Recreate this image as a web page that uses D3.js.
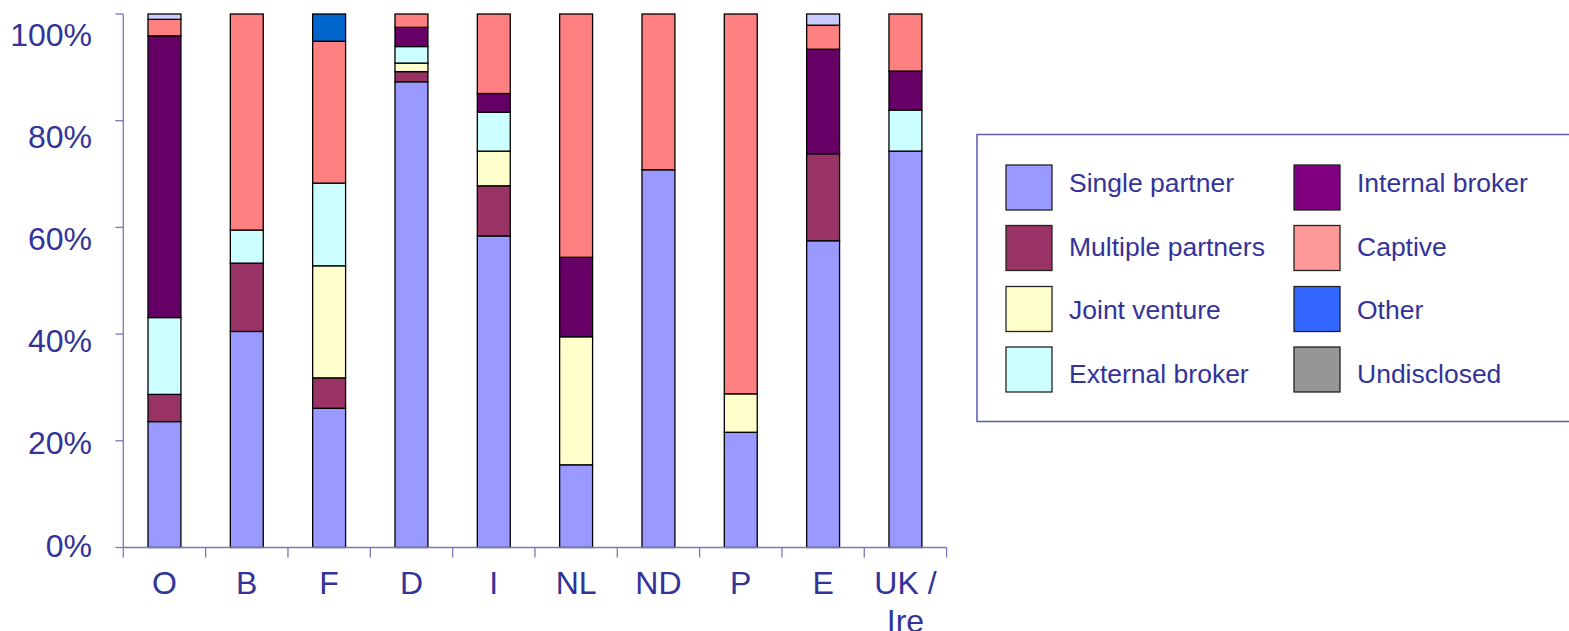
<!DOCTYPE html>
<html>
<head>
<meta charset="utf-8">
<script src="https://cdn.jsdelivr.net/npm/d3@7"></script>
<style>
  html, body { margin: 0; padding: 0; background: #fff; }
  svg { display: block; }
  text { font-family: "Liberation Sans", Arial, sans-serif; fill: #333399; }
</style>
</head>
<body>
<svg id="chart" width="1569" height="631"></svg>
<script>
// Distribution channels by market (share of business, %)
const categories = ["O", "B", "F", "D", "I", "NL", "ND", "P", "E", "UK / Ire"];

const singlePartner    = [23.6, 40.5, 26.1, 87.3, 58.4, 15.5, 70.8, 21.6, 57.5, 74.3];
const multiplePartners = [ 5.1, 12.8,  5.7,  1.9,  9.4,  0.0,  0.0,  0.0, 16.3,  0.0];
const jointVenture     = [ 0.0,  0.0, 21.0,  1.6,  6.5, 24.0,  0.0,  7.2,  0.0,  0.0];
const externalBroker   = [14.4,  6.2, 15.5,  3.1,  7.3,  0.0,  0.0,  0.0,  0.0,  7.7];
const internalBroker   = [52.8,  0.0,  0.0,  3.6,  3.5, 14.9,  0.0,  0.0, 19.6,  7.3];
const captive          = [ 3.1, 40.5, 26.6,  2.5, 14.9, 45.6, 29.2, 71.2,  4.5, 10.7];
const other            = [ 0.0,  0.0,  5.1,  0.0,  0.0,  0.0,  0.0,  0.0,  0.0,  0.0];
const undisclosed      = [ 1.0,  0.0,  0.0,  0.0,  0.0,  0.0,  0.0,  0.0,  2.1,  0.0];

const seriesNames = ["Single partner", "Multiple partners", "Joint venture", "External broker",
                     "Internal broker", "Captive", "Other", "Undisclosed"];
const seriesValues = [singlePartner, multiplePartners, jointVenture, externalBroker,
                      internalBroker, captive, other, undisclosed];
const barColors    = ["#9999FF", "#993366", "#FFFFCC", "#CCFFFF", "#660066", "#FF8080", "#0066CC", "#CCCCFF"];
const legendColors = ["#9999FF", "#993366", "#FFFFCC", "#CCFFFF", "#800080", "#FF9999", "#3366FF", "#969696"];
const yTicks = [0, 20, 40, 60, 80, 100];

const svg = d3.select("#chart");

// plot area
const plot = { left: 123.3, right: 946.6, top: 14, bottom: 547.5 };

const x = d3.scaleBand()
  .domain(categories)
  .range([plot.left, plot.right])
  .paddingInner(0.6)
  .paddingOuter(0.3);

const y = d3.scaleLinear().domain([0, 100]).range([plot.bottom, plot.top]);
// tick labels sit on their own slightly tighter ladder
const yLabel = d3.scaleLinear().domain([0, 100]).range([545, 34]);

// table for stacking
const rows = categories.map((c, i) => {
  const r = { cat: c };
  seriesNames.forEach((s, j) => { r[s] = seriesValues[j][i]; });
  return r;
});
const stacked = d3.stack().keys(seriesNames)(rows);

// bars
const g = svg.append("g");
stacked.forEach((layer, j) => {
  g.selectAll(null)
    .data(layer.filter(d => d[1] - d[0] > 0))
    .join("rect")
    .attr("x", d => x(d.data.cat))
    .attr("width", x.bandwidth())
    .attr("y", d => y(d[1]))
    .attr("height", d => y(d[0]) - y(d[1]))
    .attr("fill", barColors[j])
    .attr("stroke", "#000")
    .attr("stroke-width", 1.3);
});

// axes
const axisColor = "#7878BC";
const ax = svg.append("g").attr("stroke", axisColor).attr("stroke-width", 1.3).attr("fill", "none");
ax.append("line").attr("x1", plot.left).attr("x2", plot.left).attr("y1", y(100)).attr("y2", y(0));
ax.selectAll(null).data(yTicks).join("line")
  .attr("x1", plot.left - 8).attr("x2", plot.left)
  .attr("y1", d => y(d)).attr("y2", d => y(d));
ax.append("line").attr("x1", plot.left).attr("x2", plot.right).attr("y1", y(0)).attr("y2", y(0));
const step = x.step();
const bounds = categories.map(c => x(c) - step * x.paddingInner() / 2);
bounds.push(plot.right);
ax.selectAll(null).data(bounds).join("line")
  .attr("x1", d => d).attr("x2", d => d)
  .attr("y1", y(0)).attr("y2", y(0) + 10);

// y tick labels
svg.selectAll(null).data(yTicks).join("text")
  .attr("transform", d => `translate(92,${yLabel(d)})`)
  .attr("text-anchor", "end")
  .attr("dy", "0.36em")
  .style("font-size", "32px")
  .text(d => d + "%");

// x labels (split on line breaks after "/")
svg.selectAll(null).data(categories).join("text")
  .attr("transform", d => `translate(${x(d) + x.bandwidth() / 2},594)`)
  .attr("text-anchor", "middle")
  .style("font-size", "32px")
  .each(function (d) {
    const parts = d.includes("/") ? [d.slice(0, d.indexOf("/") + 1), d.slice(d.indexOf("/") + 1).trim()] : [d];
    d3.select(this).selectAll("tspan").data(parts).join("tspan")
      .attr("x", 0)
      .attr("dy", (p, i) => i === 0 ? 0 : 38)
      .text(p => p);
  });

// legend
const legend = svg.append("g");
legend.append("rect")
  .attr("x", 977).attr("y", 134.5).attr("width", 640).attr("height", 287)
  .attr("fill", "#fff").attr("stroke", "#5A5AAE").attr("stroke-width", 1.5);
const colX = [1006, 1294];
const rowY = [165, 225.5, 286.5, 347];
const textY = [182.5, 246, 309.5, 373];
seriesNames.forEach((s, i) => {
  const col = Math.floor(i / 4), row = i % 4;
  const cx = colX[col];
  legend.append("rect")
    .attr("x", cx).attr("y", rowY[row]).attr("width", 46).attr("height", 45)
    .attr("fill", legendColors[i]).attr("stroke", "#222").attr("stroke-width", 1.3);
  legend.append("text")
    .attr("x", cx + 63).attr("y", textY[row])
    .attr("dy", "0.36em")
    .style("font-size", "26.5px")
    .text(s);
});
</script>
</body>
</html>
